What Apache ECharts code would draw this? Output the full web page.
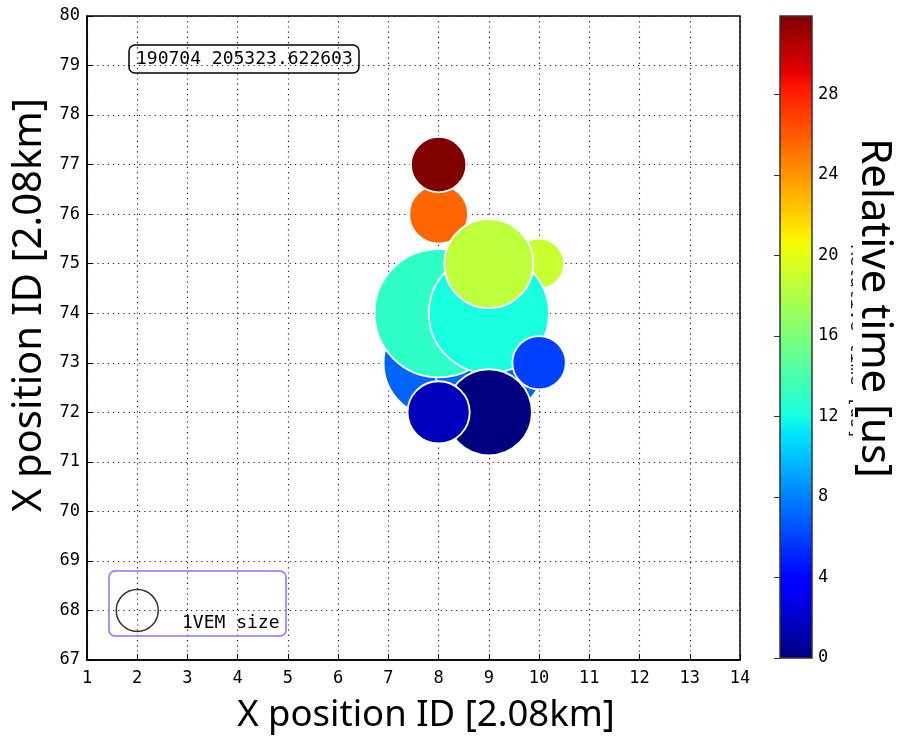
<!DOCTYPE html>
<html>
<head>
<meta charset="utf-8">
<script src="https://cdn.jsdelivr.net/npm/echarts@6/dist/echarts.min.js"></script>
<style>
html,body{margin:0;padding:0;background:#fff;}
#c{width:904px;height:738px;}
</style>
</head>
<body>
<div id="c"></div>
<script>
// ---- data ----
var xIds      = [8,    9,    10,   8,    8,    8,    9,    9,    10,   9,    8  ];
var yIds      = [73,   73,   75,   76,   77,   74,   74,   75,   73,   72,   72 ];
var relTime   = [7.1,  7.1,  18.9, 25.6, 31.9, 13.0, 12.1, 18.5, 6.0,  0.0,  1.7];
var sizeVEM   = [2.62, 2.62, 1.19, 1.40, 1.32, 3.05, 2.86, 2.12, 1.27, 2.05, 1.48];
var xTicks    = [1,14,1];   // min, max, step
var yTicks    = [67,80,1];
var timeRange = [0, 31.9, 4];
var eventLabel = '190704 205323.622603';
var legendPos = [2, 68];

// ---- jet colormap (matplotlib) ----
var jetSeg = {
  r: [[0,0],[0.35,0],[0.66,1],[0.89,1],[1,0.5]],
  g: [[0,0],[0.125,0],[0.375,1],[0.64,1],[0.91,0],[1,0]],
  b: [[0,0.5],[0.11,1],[0.34,1],[0.65,0],[1,0]]
};
function segVal(seg, t){
  for (var i=1;i<seg.length;i++){
    if (t<=seg[i][0]){
      var a=seg[i-1], b=seg[i];
      return a[1]+(b[1]-a[1])*(t-a[0])/(b[0]-a[0]);
    }
  }
  return seg[seg.length-1][1];
}
function jet(t){
  var r=Math.round(255*segVal(jetSeg.r,t)), g=Math.round(255*segVal(jetSeg.g,t)), b=Math.round(255*segVal(jetSeg.b,t));
  return 'rgb('+r+','+g+','+b+')';
}
var jetColors=[], jetStops=[];
for (var i=0;i<=100;i++){
  jetColors.push(jet(i/100));
  jetStops.push({offset:1-i/100, color:jet(i/100)});
}

var VEM_PX = 42; // diameter of 1 VEM circle in px
var pts = xIds.map(function(x,i){ return [x, yIds[i], relTime[i], sizeVEM[i]]; });

var MONO = '"DejaVu Sans Mono", monospace';
var SANS = '"Noto Sans", "Open Sans", sans-serif';

var chart = echarts.init(document.getElementById('c'), null, {renderer:'canvas'});
var option = {
  animation:false,
  backgroundColor:'#fff',
  title:{
    text: eventLabel, left:129, top:45, padding:[4,7],
    borderColor:'#000', borderWidth:1.5, borderRadius:6,
    textStyle:{fontFamily:MONO, fontSize:18, fontWeight:'normal', color:'#000', lineHeight:20}
  },
  grid:[
    {left:87, right:164, top:16, bottom:78, show:true, borderColor:'#000', borderWidth:1.5, backgroundColor:'transparent'},
    {left:780, width:32, top:16, bottom:80, show:true, borderColor:'#333', borderWidth:1.5,
     backgroundColor:{type:'linear', x:0, y:0, x2:0, y2:1, colorStops: jetStops.slice().reverse()}}
  ],
  xAxis:[
    {gridIndex:0, type:'value', min:xTicks[0], max:xTicks[1], interval:xTicks[2],
     axisLine:{show:true, lineStyle:{color:'#000', width:1.5}},
     axisTick:{show:true, inside:true, length:6, lineStyle:{color:'#000'}},
     axisLabel:{fontFamily:MONO, fontSize:17, color:'#000', margin:10},
     splitLine:{show:true, lineStyle:{color:'#222', type:[1.2,4], width:1.2}}},
    {gridIndex:1, type:'value', show:false, min:0, max:1}
  ],
  yAxis:[
    {gridIndex:0, type:'value', min:yTicks[0], max:yTicks[1], interval:yTicks[2],
     axisLine:{show:true, lineStyle:{color:'#000', width:1.5}},
     axisTick:{show:true, inside:true, length:6, lineStyle:{color:'#000'}},
     axisLabel:{fontFamily:MONO, fontSize:17, color:'#000', margin:7},
     splitLine:{show:true, lineStyle:{color:'#222', type:[1.2,4], width:1.2}}},
    {gridIndex:1, type:'value', position:'right', min:timeRange[0], max:timeRange[1], interval:timeRange[2],
     axisLine:{show:false},
     axisTick:{show:true, inside:true, length:6, lineStyle:{color:'#333', width:1}},
     axisLabel:{fontFamily:MONO, fontSize:17, color:'#000', margin:6, showMaxLabel:false},
     splitLine:{show:false}}
  ],
  visualMap:{
    show:false, type:'continuous', min:timeRange[0], max:timeRange[1],
    dimension:2, seriesIndex:0, inRange:{color:jetColors}
  },
  series:[
    {type:'scatter', xAxisIndex:0, yAxisIndex:0, data:pts,
     symbolSize:function(v){ return v[3]*VEM_PX; },
     itemStyle:{opacity:1, borderColor:'#fff', borderWidth:1.8},
     z:3},
    {type:'scatter', xAxisIndex:0, yAxisIndex:0, data:[[legendPos[0], legendPos[1]]],
     symbolSize:VEM_PX, itemStyle:{color:'rgba(0,0,0,0)', borderColor:'#000', borderWidth:1.5}, z:4}
  ],
  graphic:[
    {type:'rect', shape:{x:109, y:571, width:177, height:65, r:6}, style:{fill:null, stroke:'#7878ff', lineWidth:1.5}, z:5},
    {type:'text', x:182, y:614, style:{text:'1VEM size', font:'18px '+MONO, fill:'#000'}, z:5},
    {type:'text', x:30, y:305, rotation:Math.PI/2, style:{text:'X position ID [2.08km]', font:'40px '+SANS, fill:'#000', textAlign:'center', textVerticalAlign:'middle'}, z:5},
    {type:'text', x:426, y:716, style:{text:'X position ID [2.08km]', font:'36.5px '+SANS, fill:'#000', textAlign:'center', textVerticalAlign:'middle'}, z:5},
    {type:'text', x:856, y:342, rotation:-Math.PI/2, style:{text:'Relative time [us]', font:'18px '+MONO, fill:'#222', textAlign:'center', textVerticalAlign:'middle'}, z:5},
    {type:'rect', shape:{x:853, y:235, width:14, height:215}, style:{fill:'#fff'}, z:6},
    {type:'text', x:874, y:308, rotation:-Math.PI/2, style:{text:'Relative time [us]', font:'42px '+SANS, fill:'#000', textAlign:'center', textVerticalAlign:'middle'}, z:7}
  ]
};
chart.setOption(option);
</script>
</body>
</html>
